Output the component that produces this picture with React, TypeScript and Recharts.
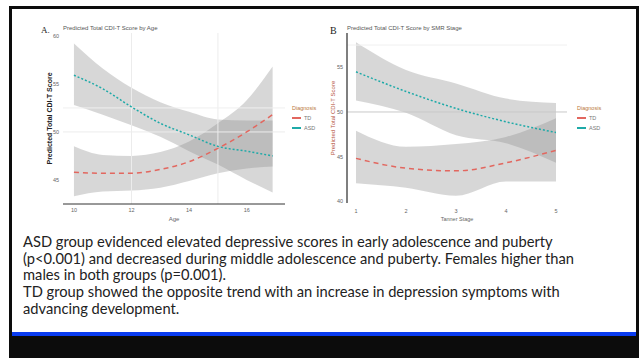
import React from "react";
import {
  ComposedChart,
  Area,
  Line,
  XAxis,
  YAxis,
  ReferenceLine,
} from "recharts";

// Panel A: predicted score by age
const AGE = [10, 11, 12, 13, 14, 15, 16, 16.9];
const AGE_TICKS = [10, 12, 14, 16];
const A_SCORE_TICKS = [45, 50, 55, 60];
const A_ASD_FIT = [55.9, 54.5, 52.6, 50.9, 49.7, 48.5, 48.0, 47.5];
const A_ASD_LO = [52.8, 51.8, 50.7, 49.5, 48.0, 46.6, 45.0, 43.7];
const A_ASD_HI = [59.2, 56.6, 54.6, 53.1, 52.1, 51.3, 51.2, 51.2];
const A_TD_FIT = [45.8, 45.7, 45.7, 46.1, 46.9, 48.3, 50.0, 51.8];
const A_TD_LO = [43.3, 43.8, 43.9, 44.2, 44.9, 45.7, 46.2, 46.4];
const A_TD_HI = [48.5, 47.6, 47.5, 47.9, 49.0, 50.9, 53.3, 56.8];

// Panel B: predicted score by stage
const STAGE = [1, 2, 3, 4, 5];
const B_SCORE_TICKS = [40, 45, 50, 55];
const B_ASD_FIT = [54.5, 52.3, 50.4, 48.9, 47.7];
const B_ASD_LO = [51.3, 49.9, 47.4, 46.5, 44.3];
const B_ASD_HI = [57.8, 54.7, 53.2, 51.5, 51.0];
const B_TD_FIT = [44.8, 43.7, 43.4, 44.3, 45.7];
const B_TD_LO = [42.0, 41.5, 40.6, 42.2, 42.2];
const B_TD_HI = [47.9, 46.1, 46.4, 47.2, 49.3];

const GROUPS = [
  { name: "TD", color: "#e2675f" },
  { name: "ASD", color: "#1eaaa8" },
];

const NOTES = [
  "ASD group evidenced elevated depressive scores in early adolescence and puberty",
  "(p<0.001) and decreased during middle adolescence and puberty. Females higher than",
  "males in both groups (p=0.001).",
  "TD group showed the opposite trend with an increase in depression symptoms with",
  "advancing development.",
];

const dataA = AGE.map((age, i) => ({
  x: age,
  asd: A_ASD_FIT[i],
  asdBand: [A_ASD_LO[i], A_ASD_HI[i]],
  td: A_TD_FIT[i],
  tdBand: [A_TD_LO[i], A_TD_HI[i]],
}));

const dataB = STAGE.map((s, i) => ({
  x: s,
  asd: B_ASD_FIT[i],
  asdBand: [B_ASD_LO[i], B_ASD_HI[i]],
  td: B_TD_FIT[i],
  tdBand: [B_TD_LO[i], B_TD_HI[i]],
}));

const FONT = "'Liberation Sans', Arial, sans-serif";
const tickStyle = { fontSize: 5.5, fill: "#666", fontFamily: FONT };

// legend drawn beside each panel (kept outside the chart so it takes no plot space)
function GroupLegend({ left, top }: { left: number; top: number }) {
  return (
    <div style={{ position: "absolute", left, top, fontFamily: FONT, fontSize: 5.5, lineHeight: "10px" }}>
      <div style={{ color: "#b9783c" }}>Diagnosis</div>
      {GROUPS.map((g) => (
        <div key={g.name} style={{ display: "flex", alignItems: "center", color: "#777" }}>
          <span style={{ width: 9, height: 1.5, background: g.color, marginRight: 3 }} />
          {g.name}
        </div>
      ))}
    </div>
  );
}

function Series() {
  return [
    <Area key="asdBand" dataKey="asdBand" type="monotone" stroke="none" fill="#8c8c8c" fillOpacity={0.35} isAnimationActive={false} />,
    <Area key="tdBand" dataKey="tdBand" type="monotone" stroke="none" fill="#8c8c8c" fillOpacity={0.35} isAnimationActive={false} />,
    <Line key="asd" dataKey="asd" type="monotone" stroke="#1eaaa8" strokeWidth={1.5} strokeDasharray="2 2" dot={false} isAnimationActive={false} />,
    <Line key="td" dataKey="td" type="monotone" stroke="#e2675f" strokeWidth={1.5} strokeDasharray="5 4" dot={false} isAnimationActive={false} />,
  ];
}

function PanelA() {
  return (
    <ComposedChart width={320} height={230} data={dataA} margin={{ top: 33, right: 35, bottom: 0, left: 40 }}>
      <XAxis
        dataKey="x"
        type="number"
        domain={[9.62, 17.33]}
        ticks={AGE_TICKS}
        allowDataOverflow
        height={26}
        tickLine={false}
        tickSize={0}
        tickMargin={4}
        axisLine={{ stroke: "#333", strokeWidth: 1 }}
        tick={tickStyle}
        label={{ value: "Age", position: "insideBottom", offset: 9, style: { fontSize: 6, fill: "#666", fontFamily: FONT } }}
      />
      <YAxis
        type="number"
        domain={[42.5, 60.3]}
        ticks={A_SCORE_TICKS}
        allowDataOverflow
        width={23}
        tickLine={false}
        tickSize={0}
        tickMargin={4}
        axisLine={false}
        tick={tickStyle}
        label={{
          value: "Predicted Total CDI-T Score",
          angle: -90,
          position: "insideLeft",
          offset: 10,
          style: { textAnchor: "middle", fontSize: 7, fill: "#222", fontWeight: 700, fontFamily: FONT },
        }}
      />
      <ReferenceLine x={12} stroke="#ececec" />
      <ReferenceLine x={15} stroke="#ececec" />
      <ReferenceLine y={52.5} stroke="#efefef" />
      <ReferenceLine y={50} stroke="#ececec" />
      {Series()}
    </ComposedChart>
  );
}

function PanelB() {
  return (
    <ComposedChart width={319} height={230} data={dataB} margin={{ top: 33, right: 72, bottom: 0, left: 7 }}>
      <XAxis
        dataKey="x"
        type="number"
        domain={[0.82, 5.22]}
        ticks={STAGE}
        allowDataOverflow
        height={27}
        tickLine={false}
        tickSize={0}
        tickMargin={6}
        axisLine={false}
        tick={tickStyle}
        label={{ value: "Tanner Stage", position: "insideBottom", offset: 9, style: { fontSize: 5.5, fill: "#666", fontFamily: FONT } }}
      />
      <YAxis
        type="number"
        domain={[39.8, 58.85]}
        ticks={B_SCORE_TICKS}
        allowDataOverflow
        width={20}
        tickLine={false}
        tickSize={0}
        tickMargin={4}
        axisLine={{ stroke: "#555", strokeWidth: 1.5 }}
        tick={tickStyle}
        label={{
          value: "Predicted Total CDI-T Score",
          angle: -90,
          position: "insideLeft",
          offset: 6,
          style: { textAnchor: "middle", fontSize: 6, fill: "#b5533c", fontFamily: FONT },
        }}
      />
      <ReferenceLine y={57.5} stroke="#f0f0f0" />
      <ReferenceLine y={50} stroke="#c8c8c8" />
      {Series()}
    </ComposedChart>
  );
}

export default function App() {
  return (
    <div style={{ position: "fixed", left: 0, top: 0, width: 639, height: 358, background: "#fff", overflow: "hidden" }}>
      {/* slide frame */}
      <div style={{ position: "absolute", left: 9, top: 6, width: 630, height: 352, background: "#0c0c0c" }} />
      <div style={{ position: "absolute", left: 12, top: 9, width: 624, height: 323, background: "#fff" }} />
      <div style={{ position: "absolute", left: 12, top: 332, width: 624, height: 4, background: "#0a3cf0" }} />

      <div style={{ position: "absolute", left: 0, top: 0 }}>
        <PanelA />
      </div>
      <div style={{ position: "absolute", left: 320, top: 0 }}>
        <PanelB />
      </div>
      <GroupLegend left={292} top={103} />
      <GroupLegend left={577} top={103} />

      <div style={{ position: "absolute", left: 41, top: 25, fontFamily: "'Liberation Serif', serif", fontSize: 9, color: "#222" }}>A.</div>
      <div style={{ position: "absolute", left: 63, top: 25, fontFamily: FONT, fontSize: 6, color: "#555", whiteSpace: "nowrap" }}>
        Predicted Total CDI-T Score by Age
      </div>
      <div style={{ position: "absolute", left: 330, top: 25, fontFamily: "'Liberation Serif', serif", fontSize: 10, color: "#222" }}>B</div>
      <div style={{ position: "absolute", left: 347, top: 25, fontFamily: FONT, fontSize: 6, color: "#555", whiteSpace: "nowrap" }}>
        Predicted Total CDI-T Score by SMR Stage
      </div>

      <div style={{ position: "absolute", left: 23, top: 233, fontFamily: "Lato, 'Open Sans', sans-serif", fontSize: 14.7, lineHeight: "16.7px", color: "#222" }}>
        {NOTES.map((t) => (
          <div key={t} style={{ whiteSpace: "nowrap" }}>{t}</div>
        ))}
      </div>
    </div>
  );
}
